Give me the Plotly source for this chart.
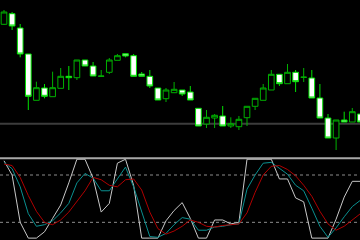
import plotly.graph_objects as go

# ---- data ----
bar_index = list(range(45))
open_ = [135.7, 146.3, 132, 106, 59.7, 72, 63.3, 71.7, 83.7, 82.3,
         100, 94, 83.7, 87.7, 99.7, 106.3, 104.3, 86, 83.7, 72,
         61.3, 67.3, 70, 68, 51.7, 36, 42, 44, 34, 33.3,
         42.3, 53.7, 59.7, 70, 85.7, 76.3, 87.7, 82.7, 82, 62,
         42, 22, 40, 38, 46]
high = [150, 148, 136, 106, 78.3, 76, 88.3, 92, 94, 100,
        100, 98, 90, 102, 106, 106.3, 106, 88, 90, 72,
        72, 78, 70, 74, 51.7, 50, 46, 54, 42.7, 44,
        53.7, 61.7, 76, 90, 85.7, 96, 90, 92, 90, 76,
        46, 40, 48.3, 52, 46]
low = [135, 130, 102.7, 50, 59.7, 61.7, 63.3, 71.7, 70, 80,
       94, 84, 83.5, 86, 99.7, 102.7, 83.7, 83.7, 72, 60,
       58, 67.3, 64, 60, 34, 32, 32, 34, 32, 30,
       34, 50, 59.7, 70, 74, 76.3, 68, 78, 62, 42,
       22, 10, 38, 38, 38]
close = [148, 134, 106, 63.7, 72.3, 63.7, 72.3, 83.7, 82.3, 100,
         94, 84, 83.9, 100, 104.3, 104, 83.7, 83.7, 74, 60,
         70, 70.7, 66, 60, 34, 42.7, 44.7, 34, 36.3, 40.7,
         53.7, 61.7, 72, 85.7, 76.3, 87.7, 78.3, 82.8, 62, 42,
         22, 40, 38, 48.3, 38]
level_price = 36.3

osc_white = [98, 80, 20, 0, 0, 8, 25, 42, 70, 100,
             100, 76, 33, 44, 95, 100, 67, 0, 0, 0,
             22, 35, 45, 25, 0, 0, 23, 23, 18, 20,
             100, 100, 100, 100, 75, 75, 51, 46, 0, 0,
             0, 24, 52, 72, 72]
osc_teal = [96, 88, 65, 31, 15, 17, 22, 32, 44, 70,
            82, 76, 60, 60, 75, 90, 65, 33, 2, 1,
            6, 17, 26, 24, 10, 10, 14, 15, 17, 18,
            62, 80, 95, 96, 88, 81, 67, 60, 38, 15,
            1, 13, 27, 40, 48]
osc_red = [94, 92, 77, 54, 34, 20, 17, 23, 33, 46,
           60, 77, 74, 67, 65, 74, 75, 61, 33, 12,
           5, 9, 15, 23, 20, 15, 14, 16, 17, 18,
           32, 58, 80, 91, 92, 87, 79, 67, 53, 34,
           18, 10, 15, 23, 31]
osc_levels = [80, 20]

fig = go.Figure()

fig.add_trace(go.Candlestick(
    x=bar_index, open=open_, high=high, low=low, close=close,
    increasing=dict(line=dict(color="#00b000", width=1), fillcolor="#000000"),
    decreasing=dict(line=dict(color="#00e000", width=1), fillcolor="#ffffff"),
    whiskerwidth=0, xaxis="x", yaxis="y", showlegend=False, hoverinfo="skip"))

fig.add_trace(go.Scatter(x=bar_index, y=osc_white, mode="lines",
                         line=dict(color="#c8c8c8", width=1),
                         xaxis="x2", yaxis="y2", showlegend=False))
fig.add_trace(go.Scatter(x=bar_index, y=osc_teal, mode="lines",
                         line=dict(color="#0a9090", width=1),
                         xaxis="x2", yaxis="y2", showlegend=False))
fig.add_trace(go.Scatter(x=bar_index, y=osc_red, mode="lines",
                         line=dict(color="#b00000", width=1),
                         xaxis="x2", yaxis="y2", showlegend=False))

shapes = [
    dict(type="line", xref="paper", x0=0, x1=1, yref="y", y0=level_price, y1=level_price,
         line=dict(color="#3c3c3c", width=2), layer="below"),
    dict(type="line", xref="paper", x0=0, x1=1, yref="paper",
         y0=(240 - 158.3) / 240, y1=(240 - 158.3) / 240,
         line=dict(color="#a8a8a8", width=2)),
]
for lv in osc_levels:
    shapes.append(dict(type="line", xref="paper", x0=0, x1=1, yref="y2", y0=lv, y1=lv,
                       line=dict(color="#8c8c8c", width=1, dash="dot"), layer="below"))

xr = [-0.494, 43.95]
fig.update_layout(
    width=360, height=240,
    margin=dict(l=0, r=0, t=0, b=0),
    paper_bgcolor="#000000", plot_bgcolor="#000000",
    showlegend=False,
    boxgap=0.3, boxgroupgap=0,
    shapes=shapes,
    xaxis=dict(range=xr, domain=[0, 1], anchor="y", visible=False,
               rangeslider=dict(visible=False), showgrid=False, zeroline=False),
    yaxis=dict(range=[3, 160], domain=[(240 - 157) / 240, 1], anchor="x",
               visible=False, showgrid=False, zeroline=False),
    xaxis2=dict(range=xr, domain=[0, 1], anchor="y2", visible=False,
                showgrid=False, zeroline=False),
    yaxis2=dict(range=[-2.4, 100.3], domain=[0, 81 / 240], anchor="x2",
                visible=False, showgrid=False, zeroline=False),
)

fig.write_html("out.html")
